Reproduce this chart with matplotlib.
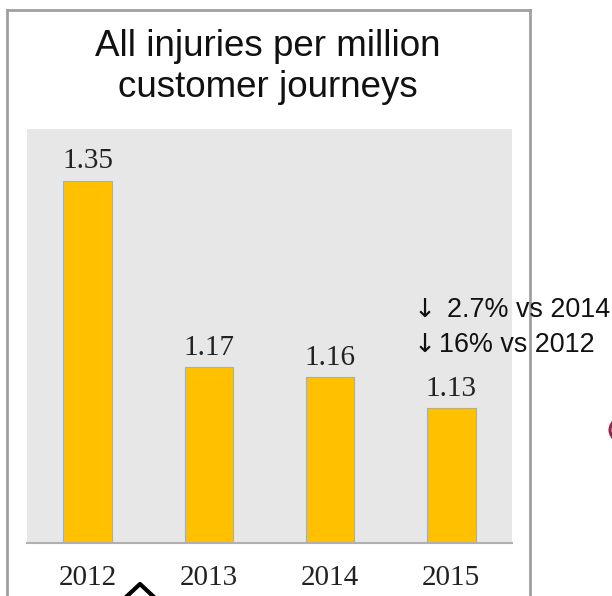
import matplotlib
matplotlib.use("Agg")
import matplotlib.pyplot as plt
from matplotlib.patches import Arc
from matplotlib.lines import Line2D

years = ["2012", "2013", "2014", "2015"]
values = [1.35, 1.17, 1.16, 1.13]
value_labels = ["1.35", "1.17", "1.16", "1.13"]
title = "All injuries per million\ncustomer journeys"
note_arrow = "\u2193"
notes = ["2.7% vs 2014", "16% vs 2012"]

W, H = 612, 596
fig = plt.figure(figsize=(W / 100, H / 100), dpi=100)
fig.patch.set_facecolor("white")

# outer panel border
fig.add_artist(Line2D([7 / W, 7 / W], [0, 1 - 10 / H], transform=fig.transFigure,
                      color="#a0a0a0", lw=2))
fig.add_artist(Line2D([7 / W, 530 / W], [1 - 10 / H, 1 - 10 / H], transform=fig.transFigure,
                      color="#a0a0a0", lw=2))
fig.add_artist(Line2D([530 / W, 530 / W], [0, 1 - 10 / H], transform=fig.transFigure,
                      color="#a0a0a0", lw=2))

ax = fig.add_axes([27 / W, 53 / H, 485 / W, 414 / H])
ax.set_facecolor("#e7e7e7")
x = range(len(years))
ax.bar(x, values, width=0.4, color="#FFC000", edgecolor="#9fb0bf", linewidth=0.8, zorder=2)
ax.set_xlim(-0.5, len(years) - 0.5)
ax.set_ylim(1.0, 1.4)
ax.set_yticks([])
ax.set_xticks(list(x))
ax.set_xticklabels(years, fontfamily="Liberation Serif", fontsize=21, color="#222222")
ax.tick_params(axis="x", length=0, pad=16)
for s in ["top", "left", "right"]:
    ax.spines[s].set_visible(False)
ax.spines["bottom"].set_color("#b0b0b0")
ax.spines["bottom"].set_linewidth(1.5)

for xi, v, lab in zip(x, values, value_labels):
    ax.annotate(lab, (xi, v), xytext=(0, 9), textcoords="offset points",
                ha="center", va="baseline", fontfamily="Liberation Serif",
                fontsize=21, color="#222222")

fig.text(268 / W, 1 - 67 / H, title, ha="center", va="center",
         fontfamily="Liberation Sans", fontsize=26.5, color="#111111", linespacing=1.2)

note_y = [310, 345]
note_x = [447, 439]
for ny, nx, txt in zip(note_y, note_x, notes):
    fig.text(414 / W, 1 - ny / H, note_arrow, ha="left", va="center",
             fontfamily="DejaVu Sans", fontsize=19, color="#111111", zorder=10)
    fig.text(nx / W, 1 - ny / H, txt, ha="left", va="center",
             fontfamily="Liberation Sans", fontsize=19.4, color="#111111", zorder=10)

# small decorations at the image edge
fig.add_artist(Line2D([125 / W, 140 / W, 155 / W], [1 - 598 / H, 1 - 584 / H, 1 - 598 / H],
                      transform=fig.transFigure, color="black", lw=3))
fig.add_artist(Arc((665 / W, 1 - 430 / H), 110 / W, 48 / H, theta1=165, theta2=195,
                   transform=fig.transFigure, color="#a0204a", lw=2.2))

fig.savefig("out.png", dpi=100)
